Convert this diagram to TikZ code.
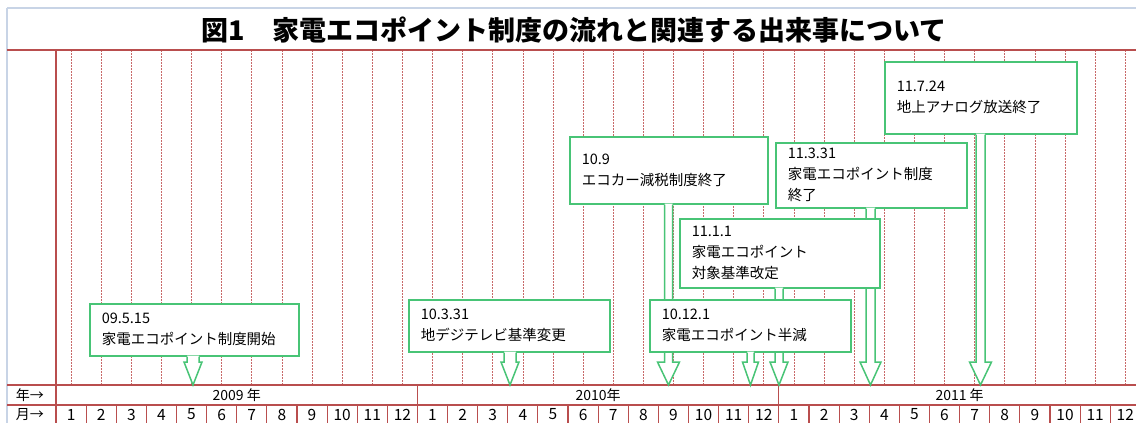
\documentclass[tikz,border=0pt]{standalone}
\usepackage{fontspec}
\setmainfont{Noto Sans CJK JP}
\usetikzlibrary{calc}
\definecolor{gridred}{RGB}{185,78,78}
\definecolor{dotred}{RGB}{200,105,105}
\definecolor{callgreen}{RGB}{72,196,118}
\definecolor{frameblue}{RGB}{200,212,230}
\tikzset{
  callline/.style={draw=callgreen, line width=1.5pt, line join=miter},
  callbox/.style={callline, fill=white, anchor=north west, align=left,
    inner xsep=12pt, inner ysep=0pt, font=\fontsize{14.5}{21}\selectfont},
  gridline/.style={draw=gridred, line width=1.1pt},
  monthline/.style={draw=dotred, line width=0.7pt, dash pattern=on 2pt off 1pt},
  lbl/.style={font=\fontsize{14}{16}\selectfont, inner sep=0pt},
  numlbl/.style={font=\fontsize{15.5}{17}\selectfont, inner sep=0pt},
  framel/.style={draw=frameblue, line width=1.2pt},
}
% #1 box node, #2 tip coordinate, #3 stem half width, #4 head half width
\newcommand{\pointer}[4]{%
  \path[fill=white] let \p1=(#1.south), \p2=(#2) in
    (\x2-#3,\y1+1pt) -- (\x2-#3,\y2+23pt) -- (\x2-#4,\y2+23pt) -- (\x2,\y2)
    -- (\x2+#4,\y2+23pt) -- (\x2+#3,\y2+23pt) -- (\x2+#3,\y1+1pt) -- cycle;
  \draw[callline] let \p1=(#1.south), \p2=(#2) in
    (\x2-#3,\y1) -- (\x2-#3,\y2+23pt) -- (\x2-#4,\y2+23pt) -- (\x2,\y2)
    -- (\x2+#4,\y2+23pt) -- (\x2+#3,\y2+23pt) -- (\x2+#3,\y1);
}
\begin{document}
\begin{tikzpicture}[x=1pt,y=-1pt]
\useasboundingbox (0,0) rectangle (1136,423);
\clip (0,0) rectangle (1136,423);
\fill[white] (0,0) rectangle (1136,423);
% frame
\draw[framel] (7,8) -- (1136,8);
\draw[framel] (7,8) -- (7,423);
% title
\node[font=\fontsize{27}{30}\selectfont\bfseries, inner sep=0pt] (title) at (574,30)
  {図1　家電エコポイント制度の流れと関連する出来事について};
% month guide lines
\foreach \k in {0,...,35} {
  \draw[monthline] ({56+30.12*(\k+0.5)},50) -- ({56+30.12*(\k+0.5)},385);
}
% grid
\draw[gridline] (7,50) -- (1136,50);
\draw[gridline] (7,385) -- (1136,385);
\draw[gridline] (7,405) -- (1136,405);
\draw[gridline] (56,50) -- (56,423);
\foreach \k in {1,...,36} {
  \draw[gridline] ({56+30.12*\k},405) -- ({56+30.12*\k},423);
}
\draw[gridline] ({56+30.12*12},385) -- ({56+30.12*12},405);
\draw[gridline] ({56+30.12*24},385) -- ({56+30.12*24},405);
% labels
\node[lbl] (ylab) at (30,395) {年→};
\node[lbl] (mlab) at (30,414.5) {月→};
\node[lbl] (y2009) at ({56+30.12*6},395) {2009 年};
\node[lbl] (y2010) at ({56+30.12*18},395) {2010年};
\node[lbl] (y2011) at ({56+30.12*30},395) {2011 年};
\foreach \k in {0,...,35} {
  \pgfmathtruncatemacro\mm{mod(\k,12)+1}
  \node[numlbl] (m\k) at ({56+30.12*(\k+0.5)},414.5) {\mm};
}
% tips
\coordinate (tA) at (193,385);
\coordinate (tB) at (510,385);
\coordinate (tC) at (668.5,385);
\coordinate (tE) at (750.5,385);
\coordinate (tD) at (779,385);
\coordinate (tF) at (870.5,385);
\coordinate (tG) at (980.5,385);
% callouts
\node[callbox, minimum width=209pt, text width=185pt, minimum height=52pt] (A) at (89,303)
  {09.5.15\\家電エコポイント制度開始};
\pointer{A}{tA}{6pt}{9pt}
\node[callbox, minimum width=201pt, text width=177pt, minimum height=52pt] (B) at (408,299)
  {10.3.31\\地デジテレビ基準変更};
\pointer{B}{tB}{6pt}{9pt}
\node[callbox, minimum width=192pt, text width=168pt, minimum height=72pt] (G) at (884,61)
  {11.7.24\\地上アナログ放送終了};
\pointer{G}{tG}{4.5pt}{11pt}
\node[callbox, minimum width=198pt, text width=174pt, minimum height=67pt] (C) at (569,136)
  {10.9\\エコカー減税制度終了};
\pointer{C}{tC}{4pt}{11pt}
\node[callbox, minimum width=191pt, text width=167pt, minimum height=65pt] (F) at (775,142)
  {11.3.31\\家電エコポイント制度\\終了};
\pointer{F}{tF}{4.5pt}{10.5pt}
\node[callbox, minimum width=200pt, text width=176pt, minimum height=69pt] (D) at (679,218)
  {11.1.1\\家電エコポイント\\対象基準改定};
\pointer{D}{tD}{4pt}{9pt}
\node[callbox, minimum width=201pt, text width=177pt, minimum height=52pt] (E) at (649,299)
  {10.12.1\\家電エコポイント半減};
\pointer{E}{tE}{3.5pt}{8pt}
\end{tikzpicture}
\end{document}
